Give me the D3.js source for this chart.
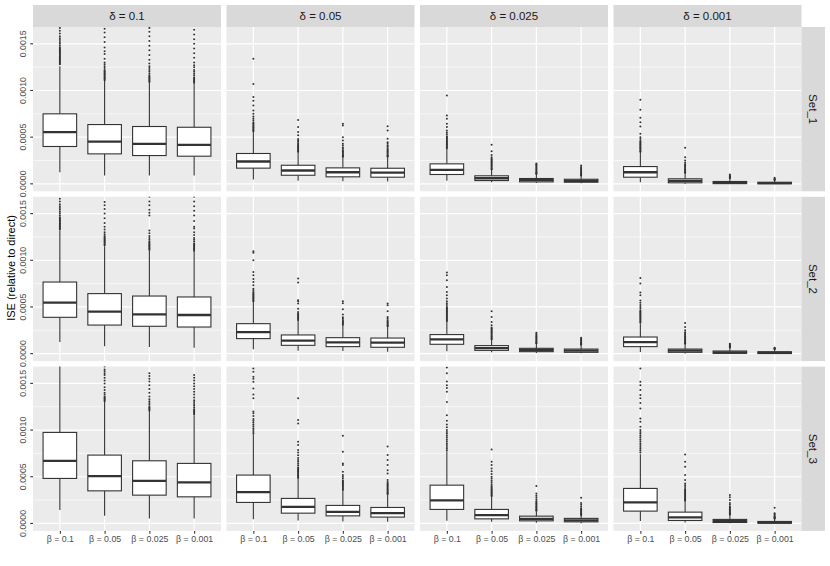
<!DOCTYPE html>
<html>
<head>
<meta charset="utf-8">
<script src="https://cdn.jsdelivr.net/npm/d3@7"></script>
<style>
  html, body { margin: 0; padding: 0; background: #ffffff; }
  svg { display: block; font-family: "Liberation Sans", Arial, Helvetica, sans-serif; }
</style>
</head>
<body>
<svg id="chart" width="830" height="566"></svg>
<script>
// ---------------- DATA (values in units of 1e-4) ----------------
const sets = ["Set_1", "Set_2", "Set_3"];
const deltas = ["δ = 0.1", "δ = 0.05", "δ = 0.025", "δ = 0.001"];
const betas = ["β = 0.1", "β = 0.05", "β = 0.025", "β = 0.001"];
const yTickValues = [0, 5, 10, 15];
const yTickLabels = ["0.0000", "0.0005", "0.0010", "0.0015"];
const yMinorValues = [2.5, 7.5, 12.5];
const yLimits = [0, 16];
const yTitle = "ISE (relative to direct)";

// each row: [lower whisker, Q1, median, Q3, upper whisker]; order: delta, then beta
const set1Stats = [
  [1.24, 4.0, 5.53, 7.5, 12.6], [0.89, 3.21, 4.53, 6.35, 11.06], [0.89, 3.03, 4.29, 6.14, 10.8], [0.89, 2.96, 4.18, 6.06, 10.7],
  [0.46, 1.68, 2.39, 3.25, 5.53], [0.32, 0.92, 1.43, 1.99, 3.39], [0.28, 0.75, 1.24, 1.71, 2.85], [0.25, 0.71, 1.21, 1.67, 2.85],
  [0.32, 1.0, 1.5, 2.14, 3.75], [0.17, 0.35, 0.6, 0.86, 1.5], [0.1, 0.21, 0.39, 0.57, 1.0], [0.05, 0.17, 0.32, 0.49, 0.85],
  [0.17, 0.71, 1.24, 1.85, 3.4], [0.02, 0.11, 0.32, 0.54, 1.15], [0.0, 0.02, 0.14, 0.25, 0.55], [0.0, 0.01, 0.07, 0.17, 0.4]
];
const set2Stats = [
  [1.24, 3.89, 5.46, 7.67, 13.2], [0.78, 3.06, 4.5, 6.43, 11.5], [0.71, 2.93, 4.21, 6.17, 11.0], [0.64, 2.85, 4.14, 6.07, 10.9],
  [0.46, 1.61, 2.31, 3.21, 5.6], [0.32, 0.89, 1.39, 2.0, 3.6], [0.28, 0.75, 1.21, 1.71, 3.1], [0.2, 0.68, 1.18, 1.67, 3.1],
  [0.25, 1.0, 1.53, 2.04, 3.55], [0.14, 0.35, 0.6, 0.86, 1.5], [0.07, 0.21, 0.39, 0.57, 1.05], [0.05, 0.14, 0.32, 0.49, 0.9],
  [0.17, 0.75, 1.24, 1.78, 3.2], [0.02, 0.14, 0.32, 0.49, 1.0], [0.0, 0.03, 0.14, 0.28, 0.6], [0.0, 0.01, 0.1, 0.2, 0.45]
];
const set3Stats = [
  [1.43, 4.82, 6.71, 9.75, 17.2], [0.81, 3.49, 5.07, 7.32, 13.0], [0.54, 3.03, 4.56, 6.71, 12.1], [0.54, 2.85, 4.39, 6.43, 11.6],
  [0.46, 2.25, 3.35, 5.18, 9.5], [0.32, 1.1, 1.78, 2.68, 4.95], [0.21, 0.81, 1.24, 1.93, 3.6], [0.18, 0.68, 1.1, 1.71, 3.1],
  [0.28, 1.5, 2.46, 4.1, 7.7], [0.17, 0.49, 0.89, 1.5, 2.9], [0.07, 0.28, 0.49, 0.78, 1.3], [0.03, 0.17, 0.32, 0.54, 0.85],
  [0.25, 1.32, 2.25, 3.75, 7.4], [0.1, 0.32, 0.64, 1.21, 2.4], [0.02, 0.1, 0.25, 0.43, 0.9], [0.0, 0.03, 0.1, 0.21, 0.45]
];

const set1Outliers = [
  [12.8,12.9,13.0,13.1,13.2,13.3,13.4,13.5,13.6,13.7,13.8,13.9,14.0,14.1,14.2,14.3,14.4,14.5,14.6,14.8,15.0,15.2,15.4,15.6,15.8,16.1,16.4,16.7,17.2],
  [11.1,11.2,11.3,11.4,11.5,11.6,11.7,11.8,11.9,12.0,12.1,12.2,12.4,12.6,12.8,13.0,13.4,13.9,14.2,14.6,15.2,15.7,16.2,16.6],
  [10.9,11.0,11.1,11.2,11.3,11.4,11.5,11.6,11.8,12.0,12.2,12.4,12.6,12.9,13.3,13.8,14.3,14.8,15.3,15.8,16.3,16.7],
  [10.8,10.9,11.0,11.1,11.2,11.3,11.4,11.6,11.8,12.0,12.2,12.5,12.7,13.0,13.5,14.0,14.5,15.0,15.5,16.0,16.5,17.0],
  [5.6,5.7,5.8,5.9,6.0,6.1,6.2,6.3,6.4,6.5,6.6,6.8,7.0,7.2,7.5,7.85,8.4,8.9,9.3,10.7,13.4],
  [3.45,3.5,3.6,3.7,3.8,3.9,4.0,4.1,4.2,4.35,4.5,4.65,4.8,5.2,5.55,6.1,6.85],
  [2.9,2.95,3.0,3.1,3.2,3.3,3.4,3.5,3.6,3.75,3.9,4.1,4.3,4.65,5.0,6.25,6.43],
  [2.9,2.95,3.0,3.1,3.2,3.3,3.4,3.5,3.6,3.7,3.85,4.0,4.1,4.3,4.46,4.82,5.71,6.18],
  [3.8,3.9,4.0,4.1,4.2,4.3,4.4,4.5,4.6,4.7,4.8,4.9,5.0,5.1,5.3,5.5,5.7,6.1,6.43,6.96,7.32,9.46],
  [1.55,1.6,1.7,1.8,1.9,2.0,2.1,2.2,2.3,2.4,2.5,2.6,2.7,2.86,3.1,3.5,4.18],
  [1.05,1.1,1.15,1.2,1.3,1.4,1.5,1.6,1.7,1.8,1.9,2.0,2.1,2.18],
  [0.9,0.95,1.0,1.1,1.2,1.3,1.4,1.5,1.6,1.7,1.8,1.96],
  [3.45,3.5,3.6,3.7,3.8,3.9,4.0,4.1,4.2,4.3,4.4,4.5,4.6,4.8,5.0,5.36,6.14,6.6,7.07,7.93,9.0],
  [1.2,1.25,1.3,1.4,1.5,1.6,1.7,1.8,1.9,2.0,2.1,2.25,2.5,2.86,3.86],
  [0.6,0.65,0.7,0.75,0.8,0.9,1.0],
  [0.42,0.45,0.5,0.55,0.64]
];
const set2Outliers = [
  [13.3,13.4,13.5,13.6,13.7,13.8,13.9,14.0,14.1,14.2,14.3,14.4,14.5,14.6,14.8,15.0,15.2,15.4,15.6,15.8,16.0,16.3,16.6,17.0],
  [11.6,11.7,11.8,11.9,12.0,12.1,12.2,12.3,12.4,12.5,12.6,12.8,13.0,13.3,13.6,14.0,14.5,15.0,15.5,15.9,16.25],
  [11.1,11.2,11.3,11.4,11.5,11.6,11.7,11.8,11.9,12.0,12.2,12.4,12.6,12.9,13.2,14.8,15.1,15.4,15.9,16.3,16.8],
  [11.0,11.1,11.2,11.3,11.4,11.5,11.6,11.7,11.8,12.0,12.2,12.4,12.7,13.0,13.4,13.6,14.2,14.8,15.3,15.8,16.3,16.8],
  [5.6,5.7,5.8,5.9,6.0,6.1,6.2,6.3,6.4,6.5,6.6,6.8,6.96,7.32,7.68,8.0,8.39,8.75,10.0,10.8,10.96],
  [3.6,3.7,3.8,3.9,4.0,4.1,4.2,4.3,4.45,4.82,5.36,5.6,5.71,7.61,8.04],
  [3.1,3.2,3.3,3.4,3.5,3.6,3.75,3.9,4.18,4.75,5.4,5.6],
  [2.95,3.0,3.1,3.2,3.3,3.4,3.5,3.6,3.8,3.93,4.54,5.18,5.36],
  [3.5,3.6,3.7,3.8,3.9,4.0,4.1,4.2,4.3,4.4,4.5,4.6,4.7,4.8,4.9,5.0,5.2,5.4,5.6,5.9,6.25,6.6,7.14,7.86,8.39,8.68],
  [1.55,1.6,1.7,1.8,1.9,2.0,2.1,2.2,2.3,2.4,2.5,2.6,2.7,2.8,3.04,3.39,3.93,4.54],
  [1.1,1.15,1.2,1.3,1.4,1.5,1.6,1.7,1.8,1.9,2.0,2.1,2.25],
  [0.95,1.0,1.05,1.1,1.2,1.3,1.4,1.5,1.6,1.71],
  [3.3,3.4,3.5,3.6,3.7,3.8,3.9,4.0,4.1,4.2,4.3,4.4,4.5,4.6,4.8,5.0,5.2,5.45,5.7,6.25,6.54,7.5,8.1],
  [1.05,1.1,1.15,1.2,1.3,1.4,1.5,1.6,1.7,1.8,1.9,2.0,2.1,2.2,2.3,2.5,2.86,3.28],
  [0.65,0.7,0.75,0.8,0.85,0.9,1.0,1.07],
  [0.48,0.5,0.55,0.6,0.64]
];
const set3Outliers = [
  [],
  [13.1,13.2,13.3,13.4,13.5,13.6,13.8,14.0,14.3,14.6,15.0,15.3,15.6,15.9,16.1,16.3,16.5,16.8],
  [12.1,12.2,12.3,12.4,12.5,12.7,12.9,13.1,13.3,13.6,14.0,14.4,14.8,15.2,15.5,15.8,16.1],
  [11.7,11.8,11.9,12.0,12.1,12.2,12.4,12.6,12.8,13.0,13.2,13.5,13.8,14.1,14.4,14.7,15.0,15.3,15.6,15.9],
  [9.6,9.8,10.0,10.2,10.4,10.6,10.8,11.0,11.2,11.5,11.8,12.0,13.4,13.8,14.46,15.18,15.5,15.71,16.25,16.6],
  [4.9,5.0,5.1,5.2,5.3,5.4,5.5,5.6,5.7,5.8,5.9,6.0,6.2,6.4,6.6,6.8,7.0,7.3,7.6,7.86,8.39,8.75,10.7,11.07,13.4],
  [3.6,3.7,3.8,3.9,4.0,4.1,4.2,4.3,4.4,4.5,4.6,4.8,5.0,5.2,5.53,6.25,6.43,7.68,9.39],
  [3.15,3.2,3.3,3.4,3.5,3.6,3.7,3.8,3.9,4.0,4.1,4.2,4.3,4.45,4.64,5.36,5.71,6.25,6.79,7.32,8.25],
  [7.8,8.0,8.2,8.4,8.6,8.8,9.0,9.2,9.4,9.6,9.8,10.0,10.3,10.6,11.0,11.6,13.0,14.1,14.5,14.8,15.2,16.1,16.7],
  [2.95,3.0,3.1,3.2,3.3,3.4,3.5,3.6,3.7,3.8,3.9,4.0,4.2,4.4,4.6,4.8,5.0,5.3,5.6,5.89,6.25,6.61,7.93],
  [1.35,1.4,1.5,1.6,1.7,1.8,1.9,2.0,2.1,2.2,2.3,2.4,2.6,2.8,3.0,3.2,4.0],
  [0.9,0.95,1.0,1.1,1.2,1.3,1.4,1.5,1.6,1.8,2.0,2.2,2.75],
  [7.6,7.8,8.0,8.2,8.4,8.6,8.8,9.0,9.2,9.4,9.6,9.8,10.0,10.36,10.9,11.25,12.3,12.9,13.4,13.75,14.3,14.8,15.18,16.6],
  [2.45,2.5,2.6,2.7,2.8,2.9,3.0,3.1,3.2,3.3,3.4,3.5,3.6,3.7,3.9,4.1,4.29,4.64,5.18,6.07,6.61,7.39],
  [0.95,1.0,1.05,1.1,1.2,1.3,1.4,1.5,1.6,1.7,1.8,2.0,2.2,2.5,2.8,3.04],
  [0.5,0.55,0.6,0.65,0.7,0.8,0.9,1.0,1.1,1.68]
];

const statsBySet = [set1Stats, set2Stats, set3Stats];
const outliersBySet = [set1Outliers, set2Outliers, set3Outliers];

// ---------------- LAYOUT ----------------
const svg = d3.select("#chart");
const panelLeft = 33, panelTop = 27, panelW = 188, panelH = 164.3, gap = 5.5;
const stripH = 22, stripW = 23.5;
const fontStack = '"Liberation Sans", Arial, Helvetica, sans-serif';

const x = d3.scalePoint().domain(betas).range([0, panelW]).padding(0.6);
const boxW = x.step() * 0.75;
// expanded range of coord_cartesian limits (5% each side)
const span = yLimits[1] - yLimits[0];
const yDomain = [yLimits[0] - 0.05 * span, yLimits[1] + 0.05 * span];

const defs = svg.append("defs");

sets.forEach((setName, r) => {
  const top = panelTop + r * (panelH + gap);
  const y = d3.scaleLinear().domain(yDomain).range([top + panelH, top]);

  deltas.forEach((dName, c) => {
    const left = panelLeft + c * (panelW + gap);
    const g = svg.append("g").attr("transform", `translate(${left},0)`);
    const clipId = `clip-${r}-${c}`;
    defs.append("clipPath").attr("id", clipId)
      .append("rect").attr("x", left).attr("y", top).attr("width", panelW).attr("height", panelH);

    // panel background
    g.append("rect").attr("x", 0).attr("y", top).attr("width", panelW).attr("height", panelH).attr("fill", "#EBEBEB");
    // minor grid
    g.selectAll(".minor").data(yMinorValues).join("line")
      .attr("x1", 0).attr("x2", panelW)
      .attr("y1", d => y(d)).attr("y2", d => y(d))
      .attr("stroke", "#ffffff").attr("stroke-width", 0.6);
    // major grid
    g.selectAll(".majorY").data(yTickValues).join("line")
      .attr("x1", 0).attr("x2", panelW)
      .attr("y1", d => y(d)).attr("y2", d => y(d))
      .attr("stroke", "#ffffff").attr("stroke-width", 1.2);
    g.selectAll(".majorX").data(betas).join("line")
      .attr("x1", d => x(d)).attr("x2", d => x(d))
      .attr("y1", top).attr("y2", top + panelH)
      .attr("stroke", "#ffffff").attr("stroke-width", 1.2);

    const clipG = svg.append("g").attr("clip-path", `url(#${clipId})`)
      .append("g").attr("transform", `translate(${left},0)`);

    betas.forEach((bName, b) => {
      const idx = c * 4 + b;
      const s = statsBySet[r][idx];
      const outs = outliersBySet[r][idx];
      const cx = x(bName);
      // whiskers
      clipG.append("line").attr("x1", cx).attr("x2", cx).attr("y1", y(s[3])).attr("y2", y(s[4]))
        .attr("stroke", "#333333").attr("stroke-width", 1.1);
      clipG.append("line").attr("x1", cx).attr("x2", cx).attr("y1", y(s[1])).attr("y2", y(s[0]))
        .attr("stroke", "#333333").attr("stroke-width", 1.1);
      // box
      clipG.append("rect").attr("x", cx - boxW / 2).attr("width", boxW)
        .attr("y", y(s[3])).attr("height", Math.max(0, y(s[1]) - y(s[3])))
        .attr("fill", "#ffffff").attr("stroke", "#333333").attr("stroke-width", 1.1);
      // median
      clipG.append("line").attr("x1", cx - boxW / 2).attr("x2", cx + boxW / 2)
        .attr("y1", y(s[2])).attr("y2", y(s[2]))
        .attr("stroke", "#333333").attr("stroke-width", 2.3);
      // outliers
      clipG.selectAll(null).data(outs).join("circle")
        .attr("cx", cx).attr("cy", d => y(d)).attr("r", 1.0)
        .attr("fill", "#333333");
    });

    // top strips
    if (r === 0) {
      svg.append("rect").attr("x", left).attr("y", panelTop - stripH).attr("width", panelW).attr("height", stripH)
        .attr("fill", "#D9D9D9");
      svg.append("text").attr("x", left + panelW / 2).attr("y", panelTop - stripH / 2)
        .attr("text-anchor", "middle").attr("dy", "0.35em")
        .attr("font-size", 11.5).attr("fill", "#1A1A1A").text(dName);
    }

    // bottom axis
    if (r === sets.length - 1) {
      const ax = svg.append("g").attr("transform", `translate(${left},${top + panelH})`)
        .call(d3.axisBottom(x).tickSize(2.75).tickPadding(2.2));
      ax.select(".domain").remove();
      ax.selectAll(".tick line").attr("stroke", "#333333").attr("stroke-width", 1.1);
      ax.selectAll(".tick text").attr("fill", "#4D4D4D").attr("font-size", 8.8).attr("font-family", fontStack);
    }
  });

  // right strip
  const rx = panelLeft + 4 * panelW + 3 * gap;
  svg.append("rect").attr("x", rx).attr("y", top).attr("width", stripW).attr("height", panelH).attr("fill", "#D9D9D9");
  svg.append("text").attr("transform", `translate(${rx + stripW / 2},${top + panelH / 2}) rotate(90)`)
    .attr("text-anchor", "middle").attr("dy", "0.35em")
    .attr("font-size", 11.5).attr("fill", "#1A1A1A").text(setName);

  // left axis
  const ay = svg.append("g").attr("transform", `translate(${panelLeft},0)`);
  yTickValues.forEach((v, i) => {
    ay.append("line").attr("x1", -2.75).attr("x2", 0).attr("y1", y(v)).attr("y2", y(v))
      .attr("stroke", "#333333").attr("stroke-width", 1.1);
    ay.append("text").attr("transform", `translate(${-7},${y(v)}) rotate(-90)`)
      .attr("text-anchor", "middle").attr("dy", "0em")
      .attr("font-size", 8.8).attr("fill", "#4D4D4D").text(yTickLabels[i]);
  });
});

// y title
const titleY = (panelTop - stripH + panelTop + 3 * panelH + 2 * gap) / 2;
svg.append("text").attr("transform", `translate(11,${titleY}) rotate(-90)`)
  .attr("text-anchor", "middle").attr("dy", "0.35em")
  .attr("font-size", 11).attr("fill", "#000000").text(yTitle);
</script>
</body>
</html>
